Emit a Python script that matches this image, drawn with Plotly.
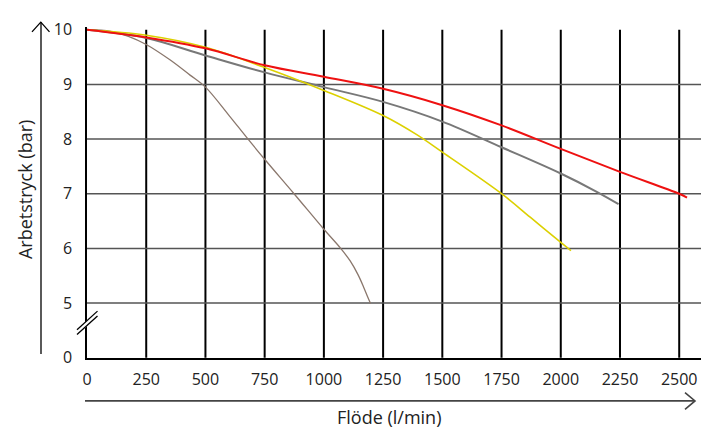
import plotly.graph_objects as go

# ---- data ----
brown_x = [0, 100, 175, 250, 350, 435, 500, 600, 674, 750, 874, 1000, 1071, 1111, 1144, 1167, 1185, 1197]
brown_y = [10, 9.97, 9.88, 9.73, 9.45, 9.17, 8.95, 8.43, 8.03, 7.63, 7.0, 6.35, 6.0, 5.77, 5.52, 5.3, 5.11, 4.99]

gray_x = [0, 250, 500, 750, 1000, 1250, 1500, 1750, 2000, 2150, 2244]
gray_y = [10, 9.85, 9.53, 9.22, 8.95, 8.68, 8.32, 7.85, 7.37, 7.04, 6.81]

yellow_x = [0, 250, 500, 750, 1000, 1250, 1392, 1500, 1750, 1871, 2000, 2043]
yellow_y = [10, 9.90, 9.68, 9.31, 8.89, 8.43, 8.08, 7.76, 7.0, 6.57, 6.11, 5.96]

red_x = [0, 250, 500, 750, 1000, 1250, 1500, 1750, 2000, 2250, 2500, 2533]
red_y = [10, 9.86, 9.66, 9.35, 9.14, 8.92, 8.62, 8.25, 7.82, 7.40, 7.0, 6.93]

x_ticks = [0, 250, 500, 750, 1000, 1250, 1500, 1750, 2000, 2250, 2500]
y_tickvals = [4, 5, 6, 7, 8, 9, 10]
y_ticktext = ["0", "5", "6", "7", "8", "9", "10"]
h_grid = [5, 6, 7, 8, 9]

FONT = "Open Sans"
OFF = 8  # page body margin
W, H = 711 - OFF, 430 - OFF
PL, PR, PT, PB = 87, 701, 19, 358  # plot area in page pixels
L, T = PL - OFF, PT - OFF
R = (OFF + W) - PR
B = (OFF + H) - PB
PW, PH = PR - PL, PB - PT


def px(x):
    return (x - PL) / PW


def py(y):
    return (PB - y) / PH


fig = go.Figure()
for xs, ys, col, w in [
    (brown_x, brown_y, "#8a776c", 1.3),
    (gray_x, gray_y, "#787878", 2),
    (yellow_x, yellow_y, "#dcd000", 1.6),
    (red_x, red_y, "#ee1111", 2),
]:
    fig.add_trace(go.Scatter(x=xs, y=ys, mode="lines", line=dict(color=col, width=w, shape="spline", smoothing=1.0),
                             hoverinfo="skip", showlegend=False))

shapes = []
for v in x_ticks[1:]:
    shapes.append(dict(type="line", xref="x", yref="y", x0=v, x1=v, y0=4, y1=10,
                       line=dict(color="#000", width=2), layer="below"))
for v in h_grid:
    shapes.append(dict(type="line", xref="x", yref="y", x0=0, x1=2592, y0=v, y1=v,
                       line=dict(color="#555", width=1.5), layer="below"))

# y arrow
shapes.append(dict(type="line", xref="paper", yref="paper", x0=px(41), x1=px(41), y0=py(354), y1=py(14),
                   line=dict(color="#000", width=1.3)))
shapes.append(dict(type="path", xref="paper", yref="paper",
                   path=f"M {px(32)} {py(24)} L {px(40.8)} {py(14)} L {px(49.5)} {py(24)}",
                   line=dict(color="#000", width=1.3)))
# x arrow
shapes.append(dict(type="line", xref="paper", yref="paper", x0=px(85), x1=px(695), y0=py(402), y1=py(402),
                   line=dict(color="#444", width=1.8)))
shapes.append(dict(type="path", xref="paper", yref="paper",
                   path=f"M {px(685)} {py(393.5)} L {px(695)} {py(402)} L {px(685)} {py(410.5)}",
                   line=dict(color="#444", width=1.6)))
# axis break
shapes.append(dict(type="path", xref="paper", yref="paper",
                   path=f"M {px(77)} {py(329)} L {px(97)} {py(310)} L {px(98)} {py(315)} L {px(78)} {py(334)} Z",
                   fillcolor="#fff", line=dict(width=0), layer="above"))
for dy in (0, 5):
    shapes.append(dict(type="line", xref="paper", yref="paper", x0=px(77), y0=py(329 + dy), x1=px(97.5),
                       y1=py(310 + dy), line=dict(color="#000", width=1.3), layer="above"))

annotations = [
    dict(text="Flöde (l/min)", xref="paper", yref="paper", x=px(389), y=py(418), showarrow=False,
         font=dict(family=FONT, size=18, color="#222"), xanchor="center", yanchor="middle"),
    dict(text="Arbetstryck (bar)", xref="paper", yref="paper", x=px(25), y=py(186), showarrow=False,
         textangle=-90, font=dict(family=FONT, size=18, color="#222"), xanchor="center", yanchor="middle"),
]

fig.update_layout(
    width=W, height=H,
    margin=dict(l=L, r=R, t=T, b=B, pad=0),
    paper_bgcolor="white", plot_bgcolor="white",
    shapes=shapes, annotations=annotations,
    font=dict(family=FONT, size=16, color="#222"),
    xaxis=dict(range=[0, 2592], tickvals=x_ticks, ticktext=[str(v) for v in x_ticks], showgrid=False,
               zeroline=False, showline=True, linecolor="#000", linewidth=2, ticks="", ticklabelstandoff=6,
               tickfont=dict(family=FONT, size=16, color="#222")),
    yaxis=dict(range=[3.995, 10.05], tickvals=y_tickvals, ticktext=y_ticktext, showgrid=False,
               zeroline=False, showline=True, linecolor="#000", linewidth=1.5, ticks="", ticklabelstandoff=10,
               tickfont=dict(family=FONT, size=16, color="#222")),
)

fig.write_html("out.html")
